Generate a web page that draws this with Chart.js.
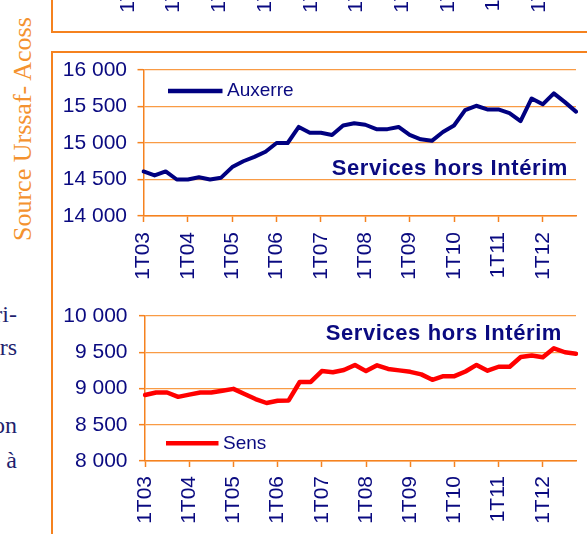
<!DOCTYPE html>
<html>
<head>
<meta charset="utf-8">
<script src="https://cdn.jsdelivr.net/npm/chart.js@4"></script>
<style>
html,body{margin:0;padding:0;background:#fff;}
body{width:587px;height:534px;position:relative;overflow:hidden;font-family:"Liberation Sans",Arial,sans-serif;}
canvas{position:absolute;}
.box{position:absolute;border:2px solid #F5821F;box-sizing:border-box;}
.src{position:absolute;left:10px;top:241px;transform:rotate(-90deg);transform-origin:0 0;white-space:nowrap;
 font-family:"Liberation Serif","Times New Roman",serif;font-size:26px;line-height:26px;color:#F4922F;}
.frag{position:absolute;right:570px;text-align:right;white-space:nowrap;
 font-family:"Liberation Serif","Times New Roman",serif;font-size:24px;line-height:24px;color:#1F1F6E;}
</style>
</head>
<body>
<div class="box" style="left:51px;top:-10px;width:600px;height:43px;"></div>
<div class="box" style="left:51px;top:51px;width:600px;height:600px;"></div>
<div class="src">Source Urssaf- Acoss</div>
<div class="frag" style="top:302px;">ri-</div>
<div class="frag" style="top:335px;">rs</div>
<div class="frag" style="top:413px;">on</div>
<div class="frag" style="top:448px;">à</div>

<canvas id="cTop" width="587" height="120" style="left:0;top:-91px;width:587px;height:120px;"></canvas>
<canvas id="c1" width="535" height="235" style="left:52px;top:55px;width:535px;height:235px;"></canvas>
<canvas id="c2" width="535" height="234" style="left:52px;top:300px;width:535px;height:234px;"></canvas>

<script>
// ---- DATA ----
const quarters = [
  "1T03","2T03","3T03","4T03","1T04","2T04","3T04","4T04",
  "1T05","2T05","3T05","4T05","1T06","2T06","3T06","4T06",
  "1T07","2T07","3T07","4T07","1T08","2T08","3T08","4T08",
  "1T09","2T09","3T09","4T09","1T10","2T10","3T10","4T10",
  "1T11","2T11","3T11","4T11","1T12","2T12","3T12","4T12"
];
const tickLabels = ["1T03","1T04","1T05","1T06","1T07","1T08","1T09","1T10","1T11","1T12"];
const auxerre = [
  14610,14555,14610,14500,14500,14530,14500,14525,
  14670,14750,14810,14880,15000,15000,15220,15140,
  15140,15110,15240,15270,15250,15190,15190,15220,
  15110,15050,15030,15150,15240,15450,15510,15460,
  15460,15410,15300,15610,15530,15680,15560,15430
];
const sens = [
  8910,8945,8945,8885,8915,8945,8945,8970,
  8995,8925,8855,8800,8830,8835,9090,9090,
  9240,9225,9255,9325,9240,9320,9270,9250,
  9230,9195,9120,9170,9170,9235,9325,9245,
  9300,9300,9435,9455,9430,9555,9500,9480
];
const yTicksAuxerre = [14000,14500,15000,15500,16000];
const yTicksSens = [8000,8500,9000,9500,10000];
const seriesNames = ["Auxerre","Sens"];
const panelTitle = "Services hors Intérim";

// ---- STYLE ----
const NAVY = "#0A0A80";
const ORANGE = "#F5821F";
const GRID = "#F99B45";
const FONT = "'Liberation Sans', Arial, sans-serif";

function fmt(v){ return String(v).replace(/\B(?=(\d{3})+(?!\d))/g, " "); }
const isLabeled = i => tickLabels.includes(quarters[i]);

const overlay = {
  id: "overlay",
  afterDatasetsDraw(chart, args, o) {
    const ctx = chart.ctx;
    ctx.save();
    if (o.legend) {
      const ds = chart.data.datasets[0];
      ctx.strokeStyle = ds.borderColor;
      ctx.lineWidth = o.legend.lw;
      ctx.lineCap = "butt";
      ctx.beginPath();
      ctx.moveTo(o.legend.x1, o.legend.y);
      ctx.lineTo(o.legend.x2, o.legend.y);
      ctx.stroke();
      ctx.fillStyle = NAVY;
      ctx.font = o.legend.size + "px " + FONT;
      ctx.textBaseline = "middle";
      ctx.textAlign = "left";
      ctx.fillText(ds.label, o.legend.x2 + 4.5, o.legend.y);
    }
    if (o.title) {
      ctx.fillStyle = NAVY;
      ctx.font = "bold " + o.title.size + "px " + FONT;
      try { ctx.letterSpacing = o.title.spacing + "px"; } catch (e) {}
      ctx.textBaseline = "alphabetic";
      ctx.textAlign = "right";
      ctx.fillText(panelTitle, o.title.x, o.title.y);
    }
    ctx.restore();
  }
};

function xScale(height, pad) {
  return {
    type: "category",
    offset: false,
    grid: {
      display: true, drawOnChartArea: false, drawTicks: true, tickLength: 6, tickWidth: 1.5,
      tickColor: c => isLabeled(c.index) ? ORANGE : "rgba(0,0,0,0)"
    },
    border: { display: true, color: ORANGE, width: 1.5 },
    ticks: {
      autoSkip: false, maxRotation: 90, minRotation: 90, padding: pad,
      color: NAVY, font: { family: FONT, size: 21 },
      callback: (v, i) => isLabeled(i) ? quarters[i] : ""
    },
    afterFit(s) { s.height = height; s.paddingLeft = 0; s.paddingRight = 0; }
  };
}

function yScale(ticks, width, pad) {
  return {
    min: ticks[0], max: ticks[ticks.length - 1],
    afterBuildTicks(s) { s.ticks = ticks.map(v => ({ value: v })); },
    grid: { color: GRID, lineWidth: 1.3, drawTicks: true, tickLength: 6, tickColor: ORANGE, tickWidth: 1.5 },
    border: { display: true, color: ORANGE, width: 1.5 },
    ticks: { color: NAVY, font: { family: FONT, size: 21 }, padding: pad, callback: v => fmt(v) },
    afterFit(s) { s.width = width; s.paddingTop = 0; s.paddingBottom = 0; }
  };
}

function makeChart(id, values, name, color, yTicks, geo) {
  return new Chart(document.getElementById(id), {
    type: "line",
    data: {
      labels: quarters,
      datasets: [{
        label: name, data: values, borderColor: color, backgroundColor: color,
        borderWidth: geo.lw, pointRadius: 0, tension: 0, fill: false,
        borderJoinStyle: "round", borderCapStyle: "round"
      }]
    },
    options: {
      responsive: false, animation: false, devicePixelRatio: 1,
      layout: { padding: { left: 0, right: geo.padR, top: geo.padT, bottom: 0 } },
      scales: { x: xScale(geo.xH, geo.xPad), y: yScale(yTicks, geo.yW, geo.yPad) },
      plugins: {
        legend: { display: false }, tooltip: { enabled: false }, title: { display: false },
        overlay: { legend: geo.legend, title: geo.title }
      }
    },
    plugins: [overlay]
  });
}

makeChart("c1", auxerre, seriesNames[0], "#000080", yTicksAuxerre, {
  lw: 4, padR: 11, padT: 15, xH: 74, xPad: 10, yW: 91.5, yPad: 10.5,
  legend: { x1: 116, x2: 170.5, y: 36, lw: 4.5, size: 19 },
  title: { x: 516, y: 120, size: 22, spacing: 0.6 }
});

makeChart("c2", sens, seriesNames[1], "#FF0000", yTicksSens, {
  lw: 4.5, padR: 11, padT: 16, xH: 73, xPad: 9, yW: 93, yPad: 11.5,
  legend: { x1: 114, x2: 166.5, y: 143.3, lw: 4.5, size: 19 },
  title: { x: 510, y: 40, size: 22, spacing: 0.6 }
});

// partial x axis of the chart above (only its label ends are visible)
new Chart(document.getElementById("cTop"), {
  type: "line",
  data: { labels: quarters, datasets: [] },
  options: {
    responsive: false, animation: false, devicePixelRatio: 1,
    layout: { padding: { left: 128, right: 13.6, top: 0, bottom: 0 } },
    scales: { x: xScale(80, 10), y: { display: false } },
    plugins: { legend: { display: false }, tooltip: { enabled: false } }
  }
});
</script>
</body>
</html>
